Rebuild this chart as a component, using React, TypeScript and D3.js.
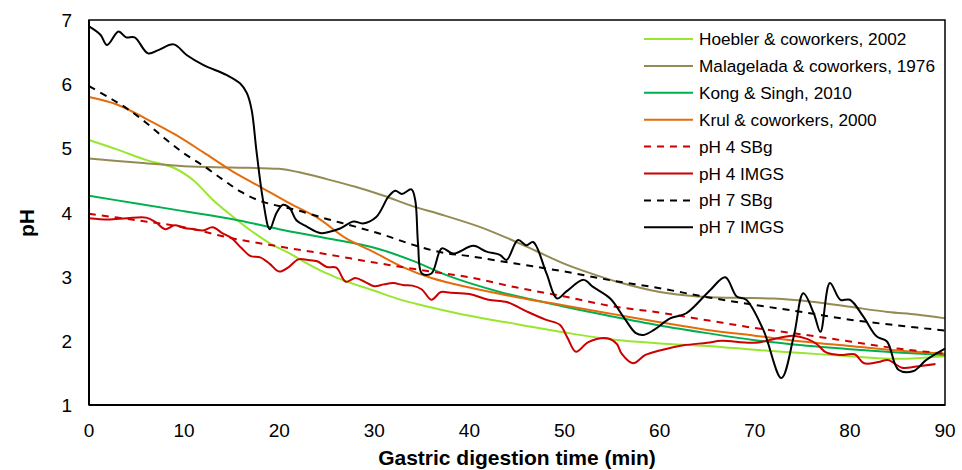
import React from 'react'
import * as d3 from 'd3'

// [minutes, pH]
const hoebler = [[0,5.13],[3,4.98],[6,4.82],[9,4.69],[11,4.5],[13,4.2],[15,3.95],[17,3.72],[19,3.52],[21,3.37],[23,3.2],[25,3.05],[27,2.93],[30,2.78],[33,2.63],[36,2.52],[40,2.39],[45,2.26],[50,2.13],[55,2.02],[60,1.96],[65,1.92],[70,1.86],[75,1.81],[80,1.76],[85,1.72],[90,1.76]]
const malagelada = [[0,4.84],[5,4.78],[10,4.72],[15,4.7],[20,4.68],[22,4.63],[25,4.52],[28,4.4],[31,4.26],[34,4.1],[37,3.97],[41,3.78],[44,3.6],[47,3.4],[50,3.2],[53,3.04],[56,2.9],[60,2.76],[64,2.69],[68,2.67],[72,2.66],[76,2.61],[80,2.53],[84,2.45],[87,2.41],[90,2.35]]
const kong = [[0,4.26],[5,4.14],[10,4.02],[15,3.9],[20,3.74],[25,3.6],[30,3.45],[34,3.25],[38,3.0],[43,2.77],[47,2.63],[50,2.53],[55,2.38],[60,2.24],[65,2.12],[70,2.01],[75,1.93],[80,1.87],[85,1.82],[90,1.78]]
const krul = [[0,5.8],[3,5.68],[6,5.46],[9,5.22],[12,4.94],[15,4.65],[18,4.4],[21,4.15],[24,3.92],[27,3.6],[30,3.38],[33,3.15],[36,2.98],[40,2.83],[45,2.68],[50,2.55],[55,2.42],[60,2.29],[65,2.17],[70,2.08],[75,1.99],[80,1.92],[85,1.85],[90,1.8]]
const ph4SBg = [[0,3.98],[5,3.88],[10,3.77],[15,3.6],[20,3.47],[25,3.35],[30,3.22],[35,3.1],[40,2.99],[45,2.83],[50,2.69],[55,2.54],[60,2.44],[65,2.32],[70,2.2],[75,2.1],[80,1.99],[85,1.88],[90,1.8]]
const ph4IMGS = [[0,3.91],[2,3.89],[4,3.91],[6,3.92],[7,3.85],[8,3.74],[9,3.8],[10,3.76],[11,3.74],[12,3.72],[13,3.77],[14,3.68],[15,3.6],[16,3.45],[17,3.32],[18,3.3],[19,3.2],[20,3.08],[21,3.15],[22,3.27],[23,3.26],[24,3.24],[25,3.15],[26,3.14],[27,2.92],[28,2.98],[29,2.92],[30,2.85],[31,2.88],[32,2.9],[33,2.87],[34,2.86],[35,2.8],[36,2.64],[37,2.76],[38,2.75],[40,2.73],[42,2.64],[44,2.6],[46,2.46],[48,2.33],[49.5,2.25],[50.3,2.05],[51.2,1.83],[52.5,1.98],[54.5,2.04],[55.5,1.95],[56,1.8],[57.2,1.65],[58.5,1.78],[60,1.85],[62.5,1.93],[65,1.97],[66.5,2.0],[70,1.97],[73,2.06],[74,2.08],[75.5,2.03],[76.5,1.95],[77.5,1.82],[79,1.78],[80.5,1.79],[81.5,1.65],[83,1.67],[84,1.7],[85.5,1.58],[87,1.6],[89,1.64]]
const ph7SBg = [[0,5.97],[2,5.8],[4,5.62],[6,5.4],[8,5.15],[10,4.92],[12,4.73],[14,4.52],[16,4.32],[18,4.18],[20,4.1],[22,4.03],[25,3.9],[28,3.78],[31,3.65],[34,3.5],[37,3.38],[40,3.32],[45,3.2],[50,3.08],[55,2.94],[60,2.82],[65,2.68],[70,2.56],[75,2.45],[80,2.33],[85,2.24],[90,2.16]]
const ph7IMGS = [[0,6.9],[1.2,6.77],[1.9,6.61],[3.1,6.82],[3.9,6.73],[4.8,6.73],[6.2,6.48],[7.3,6.53],[8.9,6.62],[10.3,6.45],[12,6.3],[14.5,6.14],[15.9,6.01],[16.6,5.86],[17.1,5.6],[17.6,4.97],[18.3,4.19],[19,3.74],[19.7,3.99],[20.4,4.12],[21.1,4.07],[21.8,3.88],[22.9,3.78],[24.3,3.68],[25.3,3.7],[26.4,3.75],[27.8,3.86],[28.8,3.83],[30.2,3.93],[31.5,4.25],[32.2,4.34],[32.9,4.29],[33.9,4.36],[34.3,4.19],[34.6,3.5],[35,3.05],[36,3.05],[37.1,3.44],[38.3,3.36],[40.4,3.48],[41.8,3.39],[43.2,3.34],[43.9,3.26],[45.1,3.57],[46,3.49],[46.7,3.54],[48.1,3.05],[49.2,2.66],[50.2,2.77],[52,2.95],[53,2.84],[54.8,2.66],[56.3,2.35],[57.5,2.12],[58.3,2.09],[59.4,2.17],[61.1,2.35],[62.8,2.43],[65.3,2.79],[66.9,2.99],[68.1,2.69],[69.1,2.64],[70.9,2.17],[72.8,1.42],[74.1,2.07],[75.1,2.74],[76.2,2.43],[76.9,2.14],[77.9,2.9],[79,2.64],[80,2.64],[81.4,2.38],[82.8,2.07],[83.9,1.99],[85.1,1.55],[86.7,1.53],[88,1.7],[90,1.88]]

const series = [
  { name: 'Hoebler & coworkers, 2002', data: hoebler, color: '#99e62e', dash: '' },
  { name: 'Malagelada & coworkers, 1976', data: malagelada, color: '#948a54', dash: '' },
  { name: 'Kong & Singh, 2010', data: kong, color: '#00b050', dash: '' },
  { name: 'Krul & coworkers, 2000', data: krul, color: '#e46c0a', dash: '' },
  { name: 'pH 4 SBg', data: ph4SBg, color: '#cc0000', dash: '7,6' },
  { name: 'pH 4 IMGS', data: ph4IMGS, color: '#cc0000', dash: '' },
  { name: 'pH 7 SBg', data: ph7SBg, color: '#000000', dash: '7,6' },
  { name: 'pH 7 IMGS', data: ph7IMGS, color: '#000000', dash: '' },
]

const xTicks = [0, 10, 20, 30, 40, 50, 60, 70, 80, 90]
const yTicks = [1, 2, 3, 4, 5, 6, 7]

const W = 962, H = 470
const m = { left: 89, right: 17, top: 20, bottom: 65 }

export default function App() {
  const x = d3.scaleLinear().domain([0, 90]).range([m.left, W - m.right])
  const y = d3.scaleLinear().domain([1, 7]).range([H - m.bottom, m.top])
  const line = d3.line<number[]>()
    .x(d => x(d[0]))
    .y(d => y(d[1]))
    .curve(d3.curveCatmullRom.alpha(0.5))

  const font = 'Arial, "Liberation Sans", sans-serif'
  return (
    <svg width={W} height={H} style={{ position: 'absolute', left: 0, top: 0 }} fontFamily={font}>
      <rect x={0} y={0} width={W} height={H} fill="#fff" />
      {series.map(s => (
        <path key={s.name} d={line(s.data) || ''} fill="none" stroke={s.color}
          strokeWidth={2} strokeDasharray={s.dash || undefined} strokeLinejoin="round" />
      ))}
      <rect x={x(0)} y={y(7)} width={x(90) - x(0)} height={y(1) - y(7)} fill="none" stroke="#000" strokeWidth={1.5} />
      <line x1={x(0)} x2={x(90)} y1={y(1)} y2={y(1)} stroke="#000" strokeWidth={2} />
      <line x1={x(0)} x2={x(0)} y1={y(1)} y2={y(7)} stroke="#000" strokeWidth={2} />
      {yTicks.map(t => (
        <text key={t} x={72} y={y(t) + 7} textAnchor="end" fontSize={19} fill="#000">{t}</text>
      ))}
      {xTicks.map(t => (
        <text key={t} x={x(t)} y={437} textAnchor="middle" fontSize={19} fill="#000">{t}</text>
      ))}
      <text x={(x(0) + x(90)) / 2} y={465} textAnchor="middle" fontSize={21} fontWeight="bold">Gastric digestion time (min)</text>
      <text transform="translate(34,223) rotate(-90)" textAnchor="middle" fontSize={21} fontWeight="bold">pH</text>
      {series.map((s, i) => {
        const ly = 39 + i * 26.9
        return (
          <g key={s.name}>
            <line x1={644} x2={693} y1={ly} y2={ly} stroke={s.color} strokeWidth={2}
              strokeDasharray={s.dash || undefined} />
            <text x={699} y={ly + 6} fontSize={17.2} fill="#000">{s.name}</text>
          </g>
        )
      })}
    </svg>
  )
}
